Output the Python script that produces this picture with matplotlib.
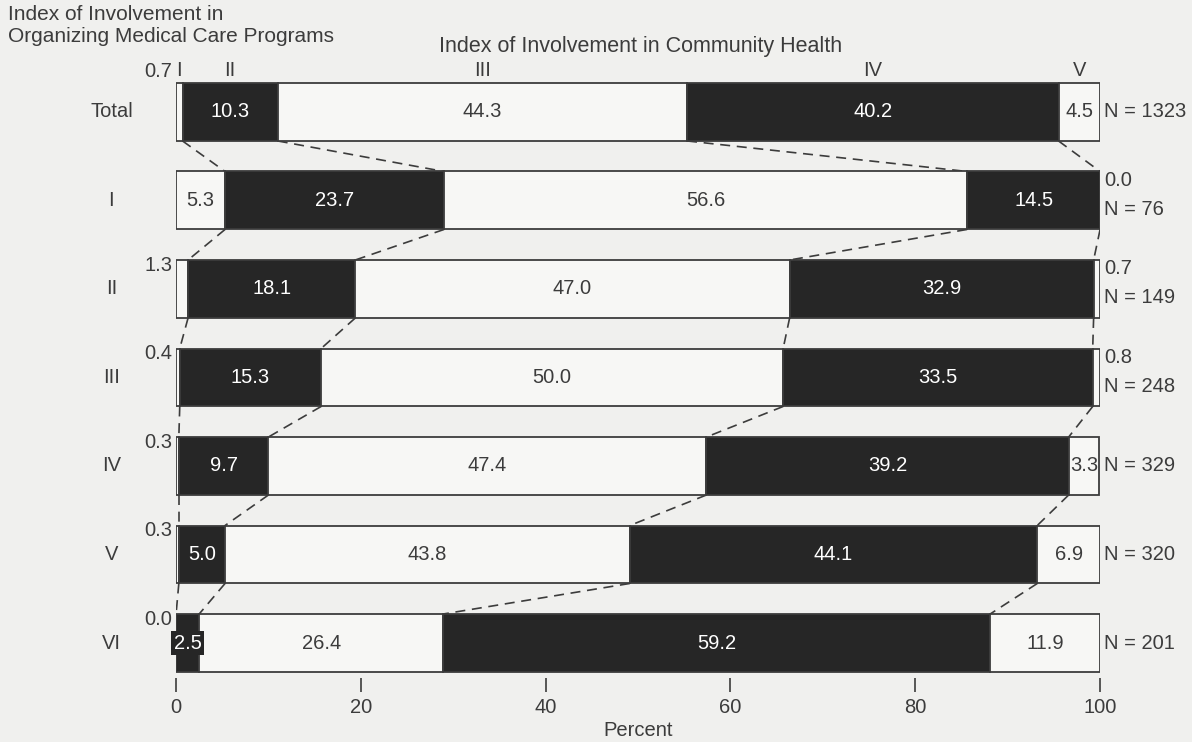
import matplotlib.pyplot as plt

plt.rcParams['font.family'] = ['Liberation Sans', 'DejaVu Sans']

rows = ['Total', 'I', 'II', 'III', 'IV', 'V', 'VI']
levels = ['I', 'II', 'III', 'IV', 'V']
share_i = [0.7, 5.3, 1.3, 0.4, 0.3, 0.3, 0.0]
share_ii = [10.3, 23.7, 18.1, 15.3, 9.7, 5.0, 2.5]
share_iii = [44.3, 56.6, 47.0, 50.0, 47.4, 43.8, 26.4]
share_iv = [40.2, 14.5, 32.9, 33.5, 39.2, 44.1, 59.2]
share_v = [4.5, 0.0, 0.7, 0.8, 3.3, 6.9, 11.9]
n_sizes = [1323, 76, 149, 248, 329, 320, 201]

paper = '#f0f0ee'
ink = '#3c3c3c'
dark = '#262626'
light = '#f7f7f5'

fig = plt.figure(figsize=(11.92, 7.42), dpi=100, facecolor=paper)
ax = fig.add_axes([0.1477, 0.0857, 0.7752, 0.8469])
ax.set_facecolor(paper)

h = 0.655
series = [share_i, share_ii, share_iii, share_iv, share_v]
fills = [light, dark, light, dark, light]
fs = 14.5

for r in range(len(rows)):
    vals = [s[r] for s in series]
    left = 0.0
    for k, v in enumerate(vals):
        w = min(v, 100 - left)
        ax.barh(r, w, left=left, height=h, color=fills[k], edgecolor=ink,
                linewidth=1.3, zorder=2)
        if v >= 2:
            col = 'white' if fills[k] == dark else ink
            if v < 3:
                ax.text(left + w / 2, r, f'{v:.1f}', ha='center', va='center',
                        fontsize=fs, color=col, zorder=4,
                        bbox=dict(facecolor=dark, edgecolor='none', pad=2))
            else:
                ax.text(left + w / 2, r, f'{v:.1f}', ha='center', va='center',
                        fontsize=fs, color=col, zorder=4)
        left += v
    # small first-level share outside on the left
    if vals[0] < 2:
        yy = r - h / 2 - 0.13 if r == 0 else r - h / 2 + 0.06
        ax.text(-0.4, yy, f'{vals[0]:.1f}', ha='right', va='center',
                fontsize=fs, color=ink)
    # small last-level share outside on the right
    ny = r
    if vals[4] < 2:
        ax.text(100.4, r - h / 2 + 0.1, f'{vals[4]:.1f}', ha='left',
                va='center', fontsize=fs, color=ink)
        ny = r + 0.1
    ax.text(100.4, ny, f'N = {n_sizes[r]}', ha='left', va='center',
            fontsize=fs, color=ink)
    ax.text(-7.0, r, rows[r], ha='center', va='center', fontsize=fs, color=ink)

# dashed connectors between boundaries of consecutive rows
for r in range(len(rows) - 1):
    a = 0.0
    b = 0.0
    for k in range(4):
        a = min(a + series[k][r], 100)
        b = min(b + series[k][r + 1], 100)
        ax.plot([a, b], [r + h / 2, r + 1 - h / 2], color=ink, lw=1.2,
                ls=(0, (6, 4)), zorder=1)

# level labels above the total bar
left = 0.0
for k, lab in enumerate(levels):
    v = series[k][0]
    ax.text(left + v / 2, -h / 2 - 0.14, lab, ha='center', va='center',
            fontsize=fs, color=ink)
    left += v

ax.set_xlim(0, 100)
ax.set_ylim(6.4, -0.7)
ax.set_xticks([0, 20, 40, 60, 80, 100])
ax.tick_params(axis='x', direction='out', length=10, width=1.2, color=ink,
               labelcolor=ink, labelsize=fs, pad=4)
ax.set_yticks([])
for sp in ax.spines.values():
    sp.set_visible(False)

fig.text(0.007, 0.993, 'Index of Involvement in\nOrganizing Medical Care Programs',
         ha='left', va='top', fontsize=15, color=ink, linespacing=1.2)
fig.text(0.537, 0.938, 'Index of Involvement in Community Health',
         ha='center', va='center', fontsize=15.5, color=ink)
fig.text(0.535, 0.016, 'Percent', ha='center', va='center', fontsize=fs,
         color=ink)

fig.savefig('out.png', dpi=100, facecolor=paper)
